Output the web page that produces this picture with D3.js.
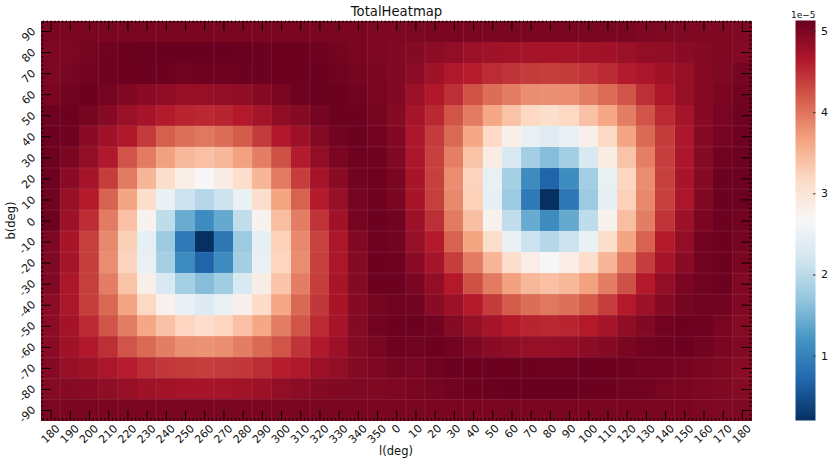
<!DOCTYPE html>
<html><head><meta charset="utf-8">
<script src="https://cdn.jsdelivr.net/npm/d3@7"></script>
<style>html,body{margin:0;padding:0;background:#fff}svg{display:block}text{font-family:"DejaVu Sans",sans-serif;fill:#111}</style>
</head><body><div id="chart"></div>
<script>
// Values in units of 1e-5. Columns follow lonLabels.
const lonLabels=[180,190,200,210,220,230,240,250,260,270,280,290,300,310,320,330,340,350,0,10,20,30,40,50,60,70,80,90,100,110,120,130,140,150,160,170,180];
const latLabels=[90,80,70,60,50,40,30,20,10,0,-10,-20,-30,-40,-50,-60,-70,-80,-90];
const b90=[5.0,5.0,5.0,5.0,5.0,5.0,5.0,5.0,5.0,5.0,5.0,5.0,5.0,5.0,5.0,5.0,5.0,4.98,4.98,4.99,5.0,5.0,5.0,5.0,5.0,5.0,5.0,5.0,5.0,5.0,5.0,4.98,4.97,4.97,4.97,4.96,4.95];
const b80=[4.98,4.99,5.03,5.07,5.1,5.11,5.12,5.12,5.12,5.12,5.11,5.1,5.1,5.1,5.08,5.04,5.0,4.98,4.95,4.93,4.88,4.85,4.8,4.76,4.74,4.72,4.71,4.72,4.74,4.75,4.8,4.85,4.87,4.9,4.93,4.96,4.94];
const b70=[4.98,5.02,5.06,5.08,5.09,5.1,5.09,5.07,5.08,5.08,5.1,5.1,5.1,5.1,5.1,5.07,5.03,5.0,4.95,4.88,4.76,4.65,4.6,4.5,4.45,4.4,4.38,4.4,4.45,4.52,4.62,4.68,4.75,4.83,4.92,4.97,5.03];
const b60=[5.0,5.06,5.1,5.04,4.96,4.9,4.86,4.82,4.82,4.85,4.87,4.92,5.0,5.08,5.11,5.09,5.06,5.02,4.95,4.8,4.65,4.48,4.24,4.05,3.93,3.82,3.8,3.82,3.93,4.06,4.22,4.48,4.68,4.82,4.93,5.0,5.05];
const b50=[5.08,5.1,5.03,4.92,4.8,4.72,4.62,4.55,4.53,4.55,4.63,4.72,4.87,4.93,5.03,5.09,5.1,5.03,4.93,4.72,4.53,4.22,3.95,3.62,3.38,3.18,3.1,3.18,3.4,3.62,3.93,4.22,4.52,4.72,4.92,5.02,5.08];
const b40=[5.1,5.08,4.9,4.76,4.64,4.4,4.15,4.03,3.98,4.05,4.17,4.4,4.64,4.78,4.93,5.05,5.1,5.05,4.95,4.68,4.4,4.07,3.62,3.15,2.82,2.48,2.36,2.48,2.8,3.17,3.65,4.07,4.4,4.68,4.92,5.03,5.08];
const b30=[5.1,5.0,4.85,4.64,4.22,3.95,3.68,3.47,3.4,3.48,3.67,3.93,4.25,4.62,4.85,5.0,5.08,5.08,4.95,4.68,4.36,3.92,3.38,2.85,2.27,1.82,1.6,1.82,2.27,2.85,3.38,3.92,4.38,4.68,4.93,5.07,5.1];
const b20=[5.1,4.9,4.72,4.38,3.95,3.5,3.12,2.82,2.67,2.85,3.12,3.5,3.95,4.38,4.72,4.9,5.05,5.08,5.0,4.7,4.36,3.83,3.22,2.48,1.84,1.1,0.68,1.12,1.82,2.47,3.2,3.83,4.37,4.7,4.93,5.1,5.1];
const b10=[5.07,4.82,4.62,4.12,3.65,3.1,2.5,2.13,1.95,2.13,2.5,3.1,3.65,4.13,4.62,4.83,5.03,5.08,5.0,4.7,4.37,3.85,3.25,2.45,1.76,0.9,0.2,0.88,1.75,2.45,3.25,3.85,4.36,4.68,4.95,5.1,5.1];
const b0=[5.1,4.78,4.5,3.95,3.4,2.75,2.03,1.43,1.1,1.4,2.05,2.75,3.42,3.93,4.45,4.75,5.03,5.1,5.05,4.78,4.48,3.95,3.42,2.75,2.05,1.42,1.1,1.4,2.03,2.75,3.42,3.93,4.45,4.78,5.0,5.1,5.06];
const bm10=[4.98,4.7,4.37,3.85,3.26,2.45,1.77,0.9,0.2,0.88,1.75,2.45,3.25,3.85,4.35,4.68,4.95,5.08,5.05,4.83,4.63,4.13,3.65,3.1,2.5,2.13,1.95,2.13,2.5,3.1,3.65,4.13,4.63,4.85,5.05,5.1,5.03];
const bm20=[4.97,4.72,4.38,3.83,3.22,2.48,1.84,1.1,0.68,1.12,1.82,2.47,3.2,3.83,4.37,4.68,4.93,5.1,5.08,4.9,4.72,4.38,3.95,3.5,3.12,2.84,2.68,2.84,3.12,3.5,3.95,4.38,4.72,4.9,5.06,5.1,5.0];
const bm30=[4.95,4.68,4.37,3.93,3.38,2.82,2.28,1.83,1.6,1.8,2.27,2.85,3.37,3.93,4.38,4.7,4.93,5.1,5.1,5.0,4.85,4.63,4.25,3.95,3.68,3.48,3.4,3.48,3.67,3.93,4.25,4.63,4.85,5.0,5.07,5.1,4.95];
const bm40=[4.88,4.68,4.38,4.08,3.65,3.18,2.78,2.47,2.35,2.47,2.8,3.13,3.62,4.08,4.42,4.7,4.92,5.03,5.07,5.06,4.9,4.78,4.63,4.4,4.17,4.05,3.98,4.03,4.17,4.38,4.63,4.78,4.92,5.03,5.07,5.05,4.95];
const bm50=[4.88,4.73,4.52,4.22,3.93,3.62,3.4,3.2,3.12,3.2,3.4,3.62,3.93,4.22,4.52,4.72,4.93,5.05,5.1,5.1,5.05,4.93,4.83,4.72,4.62,4.55,4.53,4.55,4.63,4.72,4.87,4.95,5.05,5.1,5.08,5.02,4.93];
const bm60=[4.9,4.76,4.64,4.48,4.22,4.07,3.93,3.8,3.78,3.82,3.93,4.07,4.22,4.45,4.64,4.78,4.93,5.02,5.08,5.07,5.1,5.05,4.98,4.9,4.87,4.83,4.83,4.84,4.88,4.92,5.0,5.06,5.08,5.1,5.05,5.0,4.95];
const bm70=[4.92,4.83,4.77,4.68,4.6,4.5,4.42,4.4,4.38,4.4,4.42,4.5,4.6,4.66,4.8,4.85,4.93,4.98,5.03,5.02,5.07,5.09,5.1,5.1,5.1,5.09,5.08,5.08,5.1,5.1,5.08,5.06,5.05,5.03,5.0,4.97,4.9];
const bm80=[4.93,4.92,4.9,4.87,4.82,4.76,4.74,4.72,4.72,4.72,4.74,4.78,4.85,4.88,4.93,4.95,4.97,4.97,4.98,5.0,5.03,5.05,5.09,5.11,5.12,5.12,5.12,5.12,5.1,5.1,5.07,5.05,5.02,5.0,4.98,4.97,4.93];
const bm90=[4.99,5.0,5.0,5.0,5.0,5.0,5.0,5.0,5.0,5.0,5.0,5.0,5.0,5.0,5.0,5.0,5.0,5.0,5.0,5.0,5.0,5.0,5.0,5.0,5.0,5.0,5.0,5.0,5.0,5.0,5.0,5.0,5.0,5.0,4.98,4.97,4.97];
const cellRows=[b90,b80,b70,b60,b50,b40,b30,b20,b10,b0,bm10,bm20,bm30,bm40,bm50,bm60,bm70,bm80,bm90];
const colorTicks=[1,2,3,4,5];
const seamColumns=[1,3,4,6,9,11,12,14,17,19,20,22,23,25,28,30,33,36];
const seamRows=[5,6,7,8,9,10,11,12,13,14,15,16,17,18];
const vMin=0.2, vMax=5.13;

const W=831,H=464;
const plot={l:41,r:751.5,t:20.5,b:420.5};
const bar={l:795.5,r:815.5};
const svg=d3.select("#chart").append("svg").attr("width",W).attr("height",H);

const x=d3.scaleLinear().domain([-0.5,36.5]).range([plot.l,plot.r]);
const y=d3.scaleLinear().domain([-0.5,18.5]).range([plot.t,plot.b]);
const stops=d3.schemeRdBu[11].slice().reverse();
const color=d3.scaleLinear().domain(stops.map((_,i)=>vMin+(vMax-vMin)*i/10)).range(stops).clamp(true);

// cells
const cells=cellRows.flatMap((row,j)=>row.map((v,i)=>({i,j,v})));
svg.append("g").attr("shape-rendering","crispEdges").selectAll("rect").data(cells).join("rect")
  .attr("x",d=>x(d.i-0.5)).attr("y",d=>y(d.j-0.5))
  .attr("width",d=>x(d.i+0.5)-x(d.i-0.5)+0.5).attr("height",d=>y(d.j+0.5)-y(d.j-0.5)+0.5)
  .attr("fill",d=>color(d.v));

// faint seams
const seams=svg.append("g").attr("stroke","#fff").attr("stroke-opacity",0.09).attr("stroke-width",1);
seams.selectAll(".v").data(seamColumns).join("line").attr("class","v")
  .attr("x1",d=>x(d-0.5)).attr("x2",d=>x(d-0.5)).attr("y1",plot.t).attr("y2",plot.b);
seams.selectAll(".h").data(seamRows).join("line").attr("class","h")
  .attr("y1",d=>y(d-0.5)).attr("y2",d=>y(d-0.5)).attr("x1",plot.l).attr("x2",plot.r);

// axes: majors at cell centres, four minors between
const xMajor=lonLabels.map((_,i)=>i), yMajor=latLabels.map((_,i)=>i);
const minorOf=(lo,hi,majors)=>d3.range(Math.round(lo*5),Math.round(hi*5)+1).map(k=>k/5).filter(v=>!majors.includes(v));
const xMinor=minorOf(-0.4,36.4,xMajor), yMinor=minorOf(-0.4,18.4,yMajor);
function addAxis(gen,scale,majors,minors,tx,ty){
  const mk=(vals,len)=>{const g=svg.append("g").attr("transform",`translate(${tx},${ty})`)
     .call(gen(scale).tickValues(vals).tickSize(len).tickFormat(""));
     g.select(".domain").remove(); g.selectAll(".tick line").attr("stroke","#000").attr("stroke-width",1);return g;};
  mk(minors,-2.5); return mk(majors,-10);
}
const gx=addAxis(d3.axisBottom,x,xMajor,xMinor,0,plot.b);
addAxis(d3.axisTop,x,xMajor,xMinor,0,plot.t);
const gy=addAxis(d3.axisLeft,y,yMajor,yMinor,plot.l,0);
addAxis(d3.axisRight,y,yMajor,yMinor,plot.r,0);

// rotated tick labels
const xT=svg.append("g").selectAll("text").data(lonLabels).join("text")
  .attr("font-size",11).attr("text-anchor","middle").attr("dominant-baseline","central").text(d=>d);
xT.each(function(d,i){const w=this.getComputedTextLength();
  d3.select(this).attr("transform",`translate(${x(i)},${426.4+0.37*w}) rotate(-45)`);});
const yT=svg.append("g").selectAll("text").data(latLabels).join("text")
  .attr("font-size",11).attr("text-anchor","middle").attr("dominant-baseline","central").text(d=>d);
yT.each(function(d,i){const w=this.getComputedTextLength();
  d3.select(this).attr("transform",`translate(${36.5-0.5*(w+8)*0.707},${y(i)+0.25*w}) rotate(-45)`);});

// titles
svg.append("text").attr("x",396.5).attr("y",15.5).attr("text-anchor","middle").attr("font-size",13.2).text("TotalHeatmap");
svg.append("text").attr("x",396).attr("y",455).attr("text-anchor","middle").attr("font-size",11.5).text("l(deg)");
svg.append("text").attr("transform","translate(15,220.5) rotate(-90)").attr("text-anchor","middle").attr("font-size",11.5).text("b(deg)");

// colour bar
const cb=d3.scaleLinear().domain([vMin,vMax]).range([plot.b,plot.t]);
const defs=svg.append("defs");
const grad=defs.append("linearGradient").attr("id","cbg").attr("x1",0).attr("x2",0).attr("y1",1).attr("y2",0);
grad.selectAll("stop").data(stops).join("stop").attr("offset",(d,i)=>i/10).attr("stop-color",d=>d);
svg.append("rect").attr("x",bar.l).attr("y",plot.t).attr("width",bar.r-bar.l).attr("height",plot.b-plot.t).attr("fill","url(#cbg)");
const gc=svg.append("g").attr("transform",`translate(${bar.r},0)`)
  .call(d3.axisRight(cb).tickValues(colorTicks).tickSize(-2.5).tickPadding(5.5).tickFormat(d3.format("d")));
gc.select(".domain").remove();
gc.selectAll(".tick line").attr("stroke","#333");
gc.selectAll(".tick text").attr("font-size",11).attr("font-family",'"DejaVu Sans"');
svg.append("text").attr("x",815.5).attr("y",17.5).attr("text-anchor","end").attr("font-size",9).text("1e\u22125");
</script></body></html>
